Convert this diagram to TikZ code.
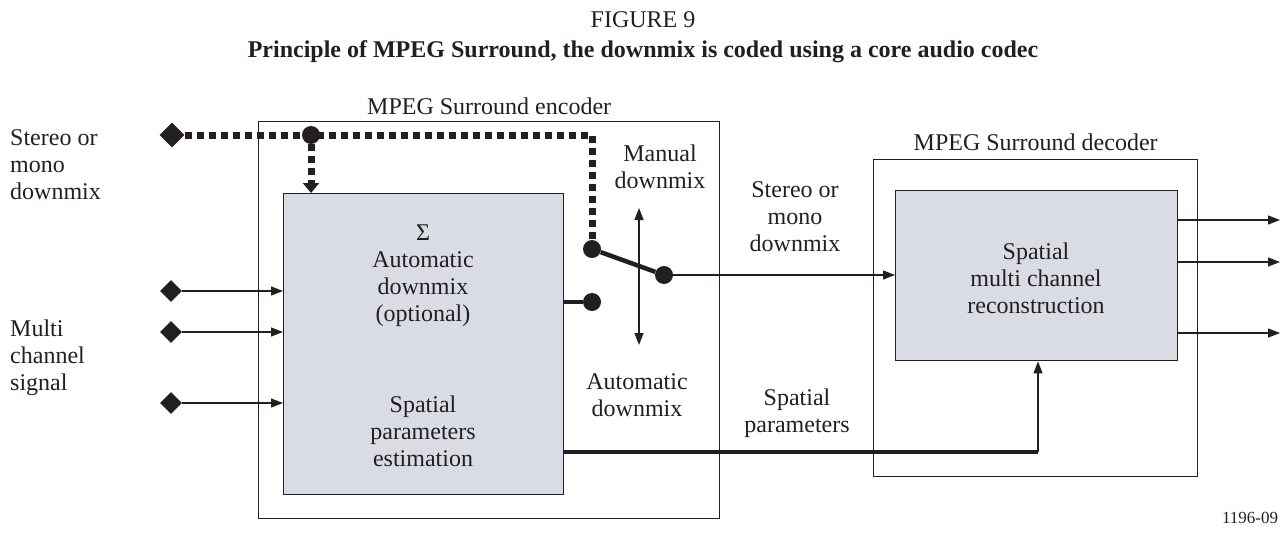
\documentclass[tikz,border=0pt]{standalone}
\usepackage{fontspec}
\setmainfont{Liberation Serif}
\usetikzlibrary{shapes.geometric,arrows.meta,positioning}
\definecolor{linec}{RGB}{35,31,32}
\definecolor{grayfill}{RGB}{217,220,228}
\newcommand\bigtxt{\fontsize{24}{27}\selectfont}
\tikzstyle{pxfig}=[x=1pt,y=-1pt,font=\bigtxt,text=linec]
\tikzstyle{frame}=[draw=linec,line width=1.4pt,inner sep=0pt,anchor=north west]
\tikzstyle{block}=[frame,fill=grayfill]
\tikzstyle{txt}=[align=center,inner sep=0pt]
\tikzstyle{port}=[diamond,fill=linec,inner sep=0pt,minimum size=22pt]
\tikzstyle{contact}=[circle,fill=linec,inner sep=0pt,minimum size=18pt]
\tikzstyle{sig}=[draw=linec,line width=1.3pt,-{Triangle[length=12pt,width=9pt]}]
\tikzstyle{heavy}=[draw=linec,line width=4.5pt]
\tikzstyle{dotline}=[draw=linec,line width=7pt,dash pattern=on 7pt off 5pt]

\begin{document}
\begin{tikzpicture}[style=pxfig]
\useasboundingbox (0,0) rectangle (1287,533);

\node[txt] (fig) at (643,20) {FIGURE 9};
\node[txt,font=\bigtxt\bfseries] (title) at (643,52) {Principle of MPEG Surround, the downmix is coded using a core audio codec};

% encoder
\node[frame,minimum width=461pt,minimum height=397pt] (enc) at (258,121) {};
\node[txt,above=6pt of enc.north] (enclbl) {MPEG Surround encoder};
\node[block,minimum width=280pt,minimum height=301pt] (gray) at (283,193) {};
\node[txt] (sumtxt) at (423,276) {Σ\\Automatic\\downmix\\(optional)};
\node[txt] (esttxt) at (423,431) {Spatial\\parameters\\estimation};

% decoder
\node[frame,minimum width=324pt,minimum height=317pt] (dec) at (873,159) {};
\node[txt,above=8pt of dec.north] (declbl) {MPEG Surround decoder};
\node[block,minimum width=282pt,minimum height=170pt] (dgray) at (895,190) {};
\node[txt] (rectxt) at (1036,278) {Spatial\\multi channel\\reconstruction};

% inputs
\node[txt,align=left,anchor=west] (dmxin) at (10,165) {Stereo or\\mono\\downmix};
\node[txt,align=left,anchor=west] (mcin) at (10,358) {Multi\\channel\\signal};
\node[port,minimum size=25pt] (sd) at (172,135) {};
\node[port] (i1) at (171,291) {};
\node[port] (i2) at (171,332) {};
\node[port] (i3) at (171,403) {};
\draw[sig] (i1) -- (i1 -| gray.west);
\draw[sig] (i2) -- (i2 -| gray.west);
\draw[sig] (i3) -- (i3 -| gray.west);

% manual downmix path
\coordinate (corner) at (592,135);
\node[contact] (man) at (592,249) {};
\node[contact] (jn) at (311,135) {};
\draw[dotline] (sd) -- (corner) -- (man);
\draw[dotline,-{Triangle[length=10pt,width=16pt]}] (jn) -- (jn |- gray.north);

% switch
\node[contact] (piv) at (664,275) {};
\node[contact] (aut) at (592,302) {};
\draw[heavy] (gray.east |- aut) -- (aut);
\draw[heavy] (man) -- (piv);
\coordinate (swup) at (639,208);
\coordinate (swdn) at (639,345);
\draw[sig,{Triangle[length=12pt,width=9pt]}-{Triangle[length=12pt,width=9pt]}] (swup) -- (swdn);
\node[txt] (mantxt) at (660,167) {Manual\\downmix};
\node[txt] (auttxt) at (637,395) {Automatic\\downmix};
\draw[sig] (piv) -- (piv -| dgray.west);
\node[txt] (dmxtxt) at (795,217) {Stereo or\\mono\\downmix};

% spatial parameters
\coordinate (sp) at (1038,452);
\draw[heavy] (sp -| gray.east) -- (sp);
\draw[sig] (sp) -- (sp |- dgray.south);
\node[txt] (sptxt) at (797,413) {Spatial\\parameters};

% outputs
\foreach \y/\n in {220/o1,262/o2,333/o3} {
  \coordinate (\n) at (1280,\y);
  \draw[sig] (\n -| dgray.east) -- (\n);
}

\node[txt,font=\fontsize{17}{19}\selectfont] (code) at (1250,518) {1196-09};
\end{tikzpicture}
\end{document}
